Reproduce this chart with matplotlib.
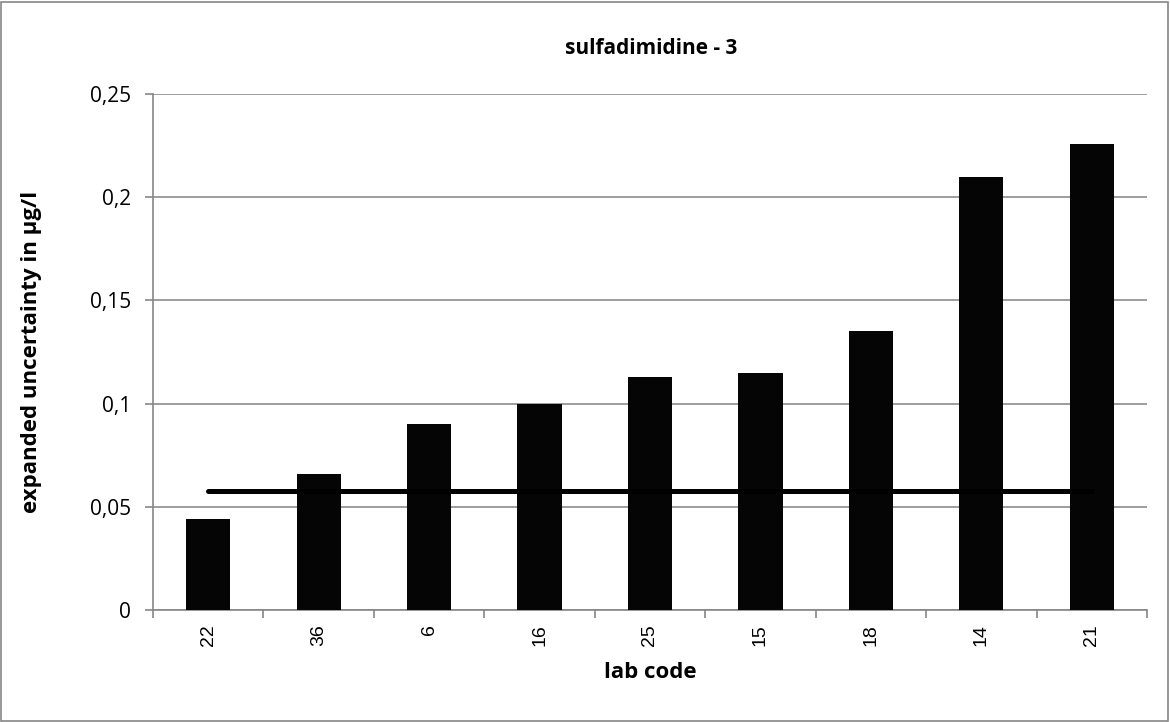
import numpy as np
import matplotlib
matplotlib.use("Agg")
import matplotlib.pyplot as plt
from matplotlib.patches import Rectangle
from matplotlib.ticker import FixedLocator, FuncFormatter

labs = ["22", "36", "6", "16", "25", "15", "18", "14", "21"]
uncertainty = [0.044, 0.066, 0.090, 0.100, 0.113, 0.115, 0.135, 0.210, 0.226]
target_level = 0.0577
yticks = [0, 0.05, 0.1, 0.15, 0.2, 0.25]

plt.rcParams['font.family'] = ['Open Sans', 'DejaVu Sans']

fig = plt.figure(figsize=(11.7, 7.22), dpi=100)
ax = fig.add_axes([0.1308, 0.1551, 0.8495, 0.7147])

x = np.arange(len(labs))
ax.bar(x, uncertainty, width=0.4, color="#050505", zorder=3)
ax.plot([x[0], x[-1]], [target_level, target_level], color="black", linewidth=3.6,
        solid_capstyle="round", zorder=4)

ax.set_xlim(-0.5, len(labs) - 0.5)
ax.set_ylim(0, 0.25)
ax.set_yticks(yticks)
ax.yaxis.set_major_formatter(FuncFormatter(lambda v, p: ("%g" % v).replace(".", ",")))
ax.set_xticks(x)
ax.set_xticklabels(labs, rotation=90, fontsize=14, family=['Liberation Sans'])
ax.xaxis.set_minor_locator(FixedLocator(np.arange(-0.5, len(labs), 1.0)))
ax.tick_params(axis="x", which="major", length=0, pad=10)
ax.tick_params(axis="x", which="minor", length=6, color="#868686", width=1.2)
ax.tick_params(axis="y", length=6, color="#868686", width=1.2, labelsize=15, pad=10)

ax.grid(axis="y", color="#8c8c8c", linewidth=1.2, zorder=0)
for s in ["top", "right"]:
    ax.spines[s].set_visible(False)
for s in ["left", "bottom"]:
    ax.spines[s].set_color("#868686")
    ax.spines[s].set_linewidth(1.2)

fig.text(0.5563, 1 - 48 / 722, "sulfadimidine - 3", fontsize=15, fontweight="bold",
         ha="center", va="center")
ax.set_xlabel("lab code", fontsize=16, fontweight="bold")
ax.xaxis.set_label_coords(0.5, -0.1)
ax.set_ylabel("expanded uncertainty in µg/l", fontsize=16, fontweight="bold")
ax.yaxis.set_label_coords(-0.112, 0.5)

fig.patches.append(Rectangle((0.001, 0.002), 0.997, 0.995, transform=fig.transFigure,
                             fill=False, edgecolor="#868686", linewidth=1.2))

fig.savefig("out.png", dpi=100)
